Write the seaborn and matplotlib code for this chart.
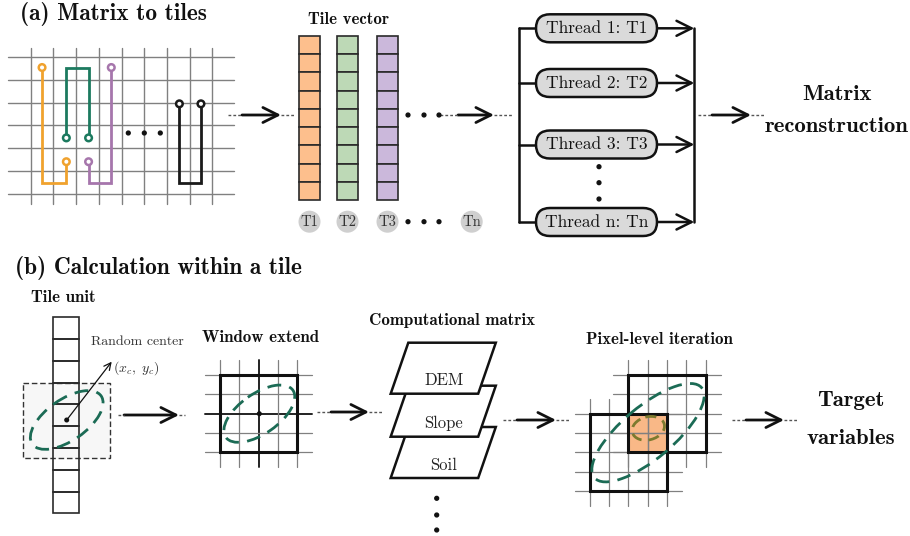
import numpy as np
import matplotlib
matplotlib.use("Agg")
import matplotlib.pyplot as plt
from matplotlib.patches import (Rectangle, Circle, Ellipse, Polygon,
                                FancyBboxPatch, FancyArrowPatch)
import seaborn as sns

# ---- text and styling content ----
panel_titles = ["(a) Matrix to tiles", "(b) Calculation within a tile"]
tile_labels = ["T1", "T2", "T3", "Tn"]
tile_colors = ["#FDBF8D", "#BDD9B6", "#CBB8DB"]
wire_colors = ["#F0A22E", "#1C7A5F", "#A676AC", "#1A1A1A"]
thread_labels = ["Thread 1: T1", "Thread 2: T2", "Thread 3: T3", "Thread n: Tn"]
layer_names = ["DEM", "Slope", "Soil"]
result_a = ["Matrix", "reconstruction"]
result_b = ["Target", "variables"]
cells_per_tile = 9

sns.set_theme(style="white")
plt.rcParams["mathtext.fontset"] = "cm"
SERIF = ["cmr10", "DejaVu Serif"]
BOLD = ["cmb10", "DejaVu Serif"]
GREEN = "#1B6B55"
GRID = "#808080"
TITLE_SIZE = 16.8
LABEL_SIZE = 12.2
RESULT_SIZE = 16.4

fig = plt.figure(figsize=(9.10, 5.36), dpi=100)
ax = fig.add_axes([0, 0, 1, 1])
ax.set_xlim(0, 910)
ax.set_ylim(536, 0)
ax.axis("off")


def text(x, y, s, size, bold=False, ha="center", color="#111111", z=6):
    ax.text(x, y, s, fontsize=size, family=BOLD if bold else SERIF,
            ha=ha, va="center", color=color, zorder=z)


def flow_arrow(x0, x1, y, d=14):
    ax.plot([x0, x0 + d], [y, y], color="#555555", lw=1.0, ls=(0, (2, 1.5)))
    ax.plot([x1 - d, x1], [y, y], color="#555555", lw=1.0, ls=(0, (2, 1.5)))
    ax.add_patch(FancyArrowPatch((x0 + d, y), (x1 - d, y),
                                 arrowstyle="->,head_length=0.9,head_width=0.45",
                                 mutation_scale=12, lw=2.0, color="#111111",
                                 shrinkA=0, shrinkB=0))


def dots(xs, ys, r=1.9):
    for x, y in zip(xs, ys):
        ax.add_patch(Circle((x, y), r, color="#111111", zorder=5))


# ================= (a) Matrix to tiles =================
text(20, 14, panel_titles[0], TITLE_SIZE, bold=True, ha="left")

gx0, gy0, gd = 30.7, 57.3, 22.7
for k in range(9):
    x = gx0 + k * gd
    ax.plot([x, x], [48, 204], color=GRID, lw=1.0, zorder=1)
for k in range(7):
    y = gy0 + k * gd
    ax.plot([8, 234], [y, y], color=GRID, lw=1.0, zorder=1)


def cell(c, r):
    return gx0 + (c + 0.5) * gd, gy0 + (r + 0.5) * gd


wires = [
    [(0, -0.05), (0, 5.05), (1.07, 5.05), (1.07, 4.1)],
    [(1.07, 3.05), (1.07, -0.05), (2.05, -0.05), (2.05, 3.05)],
    [(3.05, -0.05), (3.05, 5.05), (2.05, 5.05), (2.05, 4.1)],
    [(6.05, 1.55), (6.05, 5.05), (7.0, 5.05), (7.0, 1.55)],
]
for pts, col in zip(wires, wire_colors):
    xy = [cell(c, r) for c, r in pts]
    xs, ys = zip(*xy)
    ax.plot(xs, ys, color=col, lw=2.0, zorder=3, solid_joinstyle="miter")
    for (x, y) in (xy[0], xy[-1]):
        ax.add_patch(Circle((x, y), 3.3, facecolor="white", edgecolor=col,
                            lw=1.8, zorder=4))
dots([128.3, 144.3, 160.3], [133, 133, 133])

flow_arrow(228, 295, 115)

# tile vector
text(349, 20, "Tile vector", LABEL_SIZE, bold=True)
col_x = [299, 337, 377]
cw, ctop, cbot = 21, 36, 200
ch = (cbot - ctop) / cells_per_tile
for x, fc in zip(col_x, tile_colors):
    for i in range(cells_per_tile):
        ax.add_patch(Rectangle((x, ctop + i * ch), cw, ch, facecolor=fc,
                               edgecolor="#2a2a2a", lw=1.2, zorder=3))
label_x = [x + cw / 2 for x in col_x] + [471.7]
for x, lab in zip(label_x, tile_labels):
    ax.add_patch(Circle((x, 221.7), 11, facecolor="#CFCFCF", edgecolor="none"))
    text(x, 221.7, lab, 10.5, color="#333333")
dots([408, 424, 439], [221.7] * 3)
dots([408, 424, 439], [115] * 3)

flow_arrow(440, 512, 115, d=18)

# thread pool
ty = [28.3, 83.0, 144.5, 222.0]
lx, rx = 519.3, 694.3
px0, px1, ph = 536, 657, 28
ax.plot([lx, lx], [ty[0], ty[-1]], color="#111111", lw=1.8)
ax.plot([rx, rx], [ty[0], ty[-1]], color="#111111", lw=1.8)
for y, lab in zip(ty, thread_labels):
    ax.plot([lx, px0], [y, y], color="#111111", lw=1.8)
    ax.add_patch(FancyBboxPatch((px0, y - ph / 2), px1 - px0, ph,
                                boxstyle="round,pad=0,rounding_size=14",
                                facecolor="#DADADA", edgecolor="#111111",
                                lw=1.8, zorder=3))
    text((px0 + px1) / 2, y, lab, 12.5)
    ax.add_patch(FancyArrowPatch((px1, y), (rx, y),
                                 arrowstyle="->,head_length=0.9,head_width=0.45",
                                 mutation_scale=12, lw=1.8, color="#111111",
                                 shrinkA=0, shrinkB=0))
dots([599, 599, 599], [166.7, 182.7, 199])

flow_arrow(698, 765, 115)
text(837, 95, result_a[0], RESULT_SIZE, bold=True)
text(837, 126, result_a[1], RESULT_SIZE, bold=True)

# ================= (b) Calculation within a tile =================
text(15, 268, panel_titles[1], TITLE_SIZE, bold=True, ha="left")

# tile unit
text(63, 298, "Tile unit", LABEL_SIZE, bold=True)
ax.add_patch(Rectangle((23.3, 382.7), 86.7, 75.6, facecolor="#F7F7F7",
                       edgecolor="#333333", lw=1.0, ls=(0, (4, 2)), zorder=1))
ux, uw, utop, ubot = 53.3, 25.7, 317.3, 513.3
uh = (ubot - utop) / cells_per_tile
for i in range(cells_per_tile):
    ax.add_patch(Rectangle((ux, utop + i * uh), uw, uh, facecolor="none",
                           edgecolor="#2a2a2a", lw=1.2, zorder=2))
ax.add_patch(Ellipse((66.7, 420), 84, 41, angle=-35, facecolor="none",
                     edgecolor=GREEN, lw=2.0, ls=(0, (5, 3)), zorder=3))
dots([66.7], [420], r=1.8)
ax.add_patch(FancyArrowPatch((66.7, 420), (111.7, 361.7),
                             arrowstyle="->,head_length=0.5,head_width=0.25",
                             mutation_scale=10, lw=0.9, color="#111111",
                             shrinkA=0, shrinkB=0, zorder=4))
text(137, 342, "Random center", 10, color="#333333")
ax.text(113, 368, r"$(x_c,\ y_c)$", fontsize=10, ha="left", va="center",
        color="#333333")

flow_arrow(118, 185, 415, d=6)

# window extend
text(261, 337, "Window extend", LABEL_SIZE, bold=True)


def window(x0, y0, n=4, d=19.35, ext=15, mid=False):
    for k in range(n + 1):
        strong = mid and k == n // 2
        ax.plot([x0 + k * d] * 2, [y0 - ext, y0 + n * d + ext],
                color="#222222" if strong else GRID,
                lw=1.4 if strong else 0.9, zorder=2)
        ax.plot([x0 - ext, x0 + n * d + ext], [y0 + k * d] * 2,
                color="#222222" if strong else GRID,
                lw=1.4 if strong else 0.9, zorder=2)


def box(x0, y0, n=4, d=19.35):
    ax.add_patch(Rectangle((x0, y0), n * d, n * d, facecolor="none",
                           edgecolor="#111111", lw=2.2, zorder=4))


window(220, 375, mid=True)
box(220, 375)
ax.add_patch(Ellipse((259.3, 413.7), 82, 40, angle=-35, facecolor="none",
                     edgecolor=GREEN, lw=2.0, ls=(0, (5, 3)), zorder=5))
dots([259.3], [413.7], r=1.8)

flow_arrow(317, 383, 412)

# computational matrix
text(451.7, 320, "Computational matrix", LABEL_SIZE, bold=True)
lw_, lh, slant = 87.5, 51, 17.6
lxl, ltops = 408.3, [342.7, 385.7, 427.0]
for name, top in reversed(list(zip(layer_names, ltops))):
    poly = [(lxl, top), (lxl + lw_, top), (lxl + lw_ - slant, top + lh),
            (lxl - slant, top + lh)]
    ax.add_patch(Polygon(poly, closed=True, facecolor="white",
                         edgecolor="#111111", lw=1.8, zorder=3))
    text(lxl + lw_ / 2 - slant / 2 + 0.5, top + 38, name, 12,
         color="#222222", z=4)
dots([436.7] * 3, [498.3, 515, 530])

flow_arrow(503, 570, 420)

# pixel-level iteration
text(659, 339.3, "Pixel-level iteration", LABEL_SIZE, bold=True)
d = 19.35
ux0, uy0 = 628.3, 375
lx0, ly0 = ux0 - 2 * d, uy0 + 2 * d
ax.add_patch(Rectangle((ux0, ly0), 2 * d, 2 * d, facecolor="#F9B887",
                       edgecolor="none", zorder=1))
window(ux0, uy0)
window(lx0, ly0)
box(ux0, uy0)
box(lx0, ly0)
ax.add_patch(Ellipse((648, 432.7), 140, 52, angle=-40, facecolor="none",
                     edgecolor=GREEN, lw=2.0, ls=(0, (5, 3)), zorder=5))
ax.add_patch(Ellipse((648.3, 428.3), 33, 23, angle=-15, facecolor="none",
                     edgecolor="#7C7A2E", lw=2.0, ls=(0, (4, 2.5)), zorder=5))

flow_arrow(732, 798, 420)
text(851, 400, result_b[0], RESULT_SIZE, bold=True)
text(851, 438, result_b[1], RESULT_SIZE, bold=True)

fig.savefig("out.png", dpi=100, facecolor="white")
